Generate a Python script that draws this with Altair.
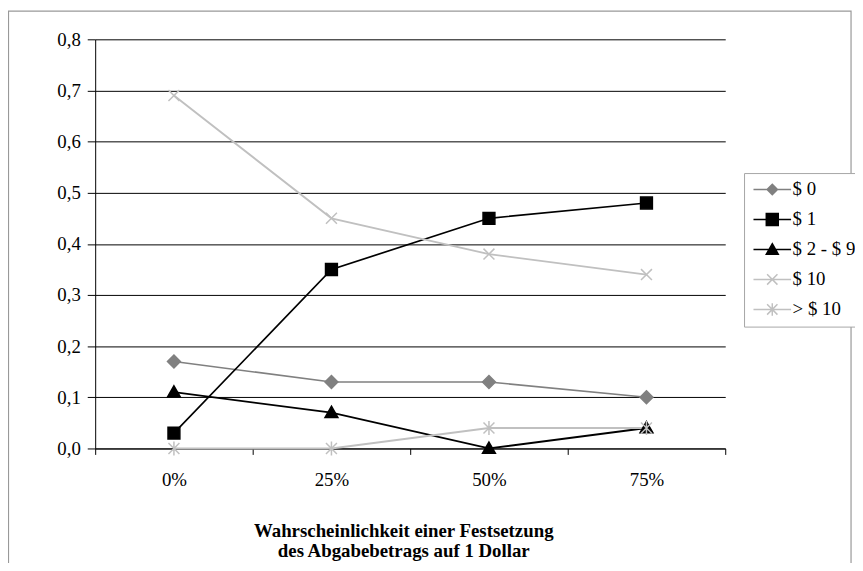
import altair as alt
import pandas as pd

categories = ["0%", "25%", "50%", "75%"]
series = ["$ 0", "$ 1", "$ 2 - $ 9", "$ 10", "> $ 10"]
v_0 = [0.17, 0.13, 0.13, 0.10]
v_1 = [0.03, 0.35, 0.45, 0.48]
v_2_9 = [0.11, 0.07, 0.00, 0.04]
v_10 = [0.69, 0.45, 0.38, 0.34]
v_gt10 = [0.00, 0.00, 0.04, 0.04]
y_ticks = [0.0, 0.1, 0.2, 0.3, 0.4, 0.5, 0.6, 0.7, 0.8]

line_colors = ["#808080", "#000000", "#000000", "#c0c0c0", "#c0c0c0"]
line_widths = [1.6, 2.0, 1.4, 1.6, 2.0]
marker_paths = [
    "M0,-1L1,0L0,1L-1,0Z",
    "M-0.92,-0.92H0.92V0.92H-0.92Z",
    "M0,-1L1,0.75L-1,0.75Z",
    "M-0.85,-0.85L0.85,0.85M-0.85,0.85L0.85,-0.85",
    "M-0.85,-0.85L0.85,0.85M-0.85,0.85L0.85,-0.85M0,-1.1L0,1.1",
]
legend_paths = [
    "M-3.45,0H3.45M0,-0.95L0.95,0L0,0.95L-0.95,0Z",
    "M-3.45,0H3.45M-1.1,-1.1H1.1V1.1H-1.1Z",
    "M-3.45,0H3.45M0,-1.05L1.1,0.9L-1.1,0.9Z",
    "M-3.45,0H3.45M-0.95,-0.95L0.95,0.95M-0.95,0.95L0.95,-0.95",
    "M-3.45,0H3.45M-0.95,-0.95L0.95,0.95M-0.95,0.95L0.95,-0.95M0,-1.15L0,1.15",
]

rows = []
for s, vals in zip(series, [v_0, v_1, v_2_9, v_10, v_gt10]):
    for c, v in zip(categories, vals):
        rows.append({"cat": c, "series": s, "value": v})
df = pd.DataFrame(rows)

FONT = "Liberation Serif, Times New Roman, serif"

x_enc = alt.X(
    "cat:N",
    sort=categories,
    scale=alt.Scale(domain=categories, paddingInner=0, paddingOuter=0),
    axis=alt.Axis(
        title=["Wahrscheinlichkeit einer Festsetzung", "des Abgabebetrags auf 1 Dollar"],
        titleFont=FONT,
        titleFontSize=19,
        titleFontWeight="bold",
        titleColor="#000000",
        titlePadding=33,
        titleLineHeight=20,
        titleX=311,
        labelAngle=0,
        labelFont=FONT,
        labelFontSize=19,
        labelColor="#000000",
        labelPadding=16,
        tickBand="extent",
        tickSize=6,
        tickColor="#000000",
        domainColor="#000000",
        grid=False,
    ),
)
y_enc = alt.Y(
    "value:Q",
    scale=alt.Scale(domain=[0, 0.8], nice=False),
    axis=alt.Axis(
        title=None,
        values=y_ticks,
        labelExpr="replace(format(datum.value, '.1f'), '.', ',')",
        labelFont=FONT,
        labelFontSize=19,
        labelColor="#000000",
        labelPadding=7,
        tickSize=8,
        tickColor="#000000",
        domainColor="#000000",
        grid=True,
        gridColor="#000000",
        gridWidth=1,
    ),
)

base = alt.Chart(df)

lines = base.mark_line(opacity=1).encode(
    x=x_enc,
    y=y_enc,
    color=alt.Color("series:N", scale=alt.Scale(domain=series, range=line_colors), legend=None),
    strokeWidth=alt.StrokeWidth("series:N", scale=alt.Scale(domain=series, range=line_widths), legend=None),
)

markers = base.mark_point(filled=True, opacity=1, size=169, strokeWidth=1.5).encode(
    x=alt.X("cat:N", sort=categories),
    y="value:Q",
    shape=alt.Shape("series:N", scale=alt.Scale(domain=series, range=marker_paths), legend=None),
    fill=alt.Fill("series:N", scale=alt.Scale(domain=series, range=line_colors), legend=None),
    stroke=alt.Stroke("series:N", scale=alt.Scale(domain=series, range=line_colors), legend=None),
)

leg = dict(title=None, orient="none", legendX=655, legendY=135)
legend_layer = base.mark_point(filled=True, opacity=1, strokeWidth=1.5).encode(
    x=alt.X("cat:N", sort=categories),
    y="value:Q",
    shape=alt.Shape("series:N", scale=alt.Scale(domain=series, range=legend_paths), legend=alt.Legend(**leg)),
    fill=alt.Fill("series:N", scale=alt.Scale(domain=series, range=line_colors), legend=alt.Legend(**leg)),
    stroke=alt.Stroke("series:N", scale=alt.Scale(domain=series, range=line_colors), legend=alt.Legend(**leg)),
).transform_filter("datum.value < 0")

frame = alt.Chart(pd.DataFrame({"k": [0]})).mark_rect(
    fill=None, stroke="#999999", strokeWidth=1.2
).encode(
    x=alt.value(-87.5), x2=alt.value(763), y=alt.value(-28.5), y2=alt.value(600)
)

chart = (
    alt.layer(frame, lines, markers, legend_layer)
    .resolve_scale(shape="independent", fill="independent", stroke="independent")
    .properties(
        width=636,
        height=413,
        autosize=alt.AutoSizeParams(type="none"),
        padding={"left": 88, "top": 29, "right": 131, "bottom": 113},
    )
    .configure_view(stroke=None)
    .configure_legend(
        padding=7,
        rowPadding=10.3,
        symbolOffset=12,
        labelOffset=11,
        symbolSize=121,
        symbolStrokeWidth=1.5,
        strokeColor="#a6a6a6",
        fillColor="#ffffff",
        labelFont=FONT,
        labelFontSize=19,
        labelColor="#000000",
        cornerRadius=0,
    )
)

chart.save("out.html", embed_options={"renderer": "svg", "actions": False})
